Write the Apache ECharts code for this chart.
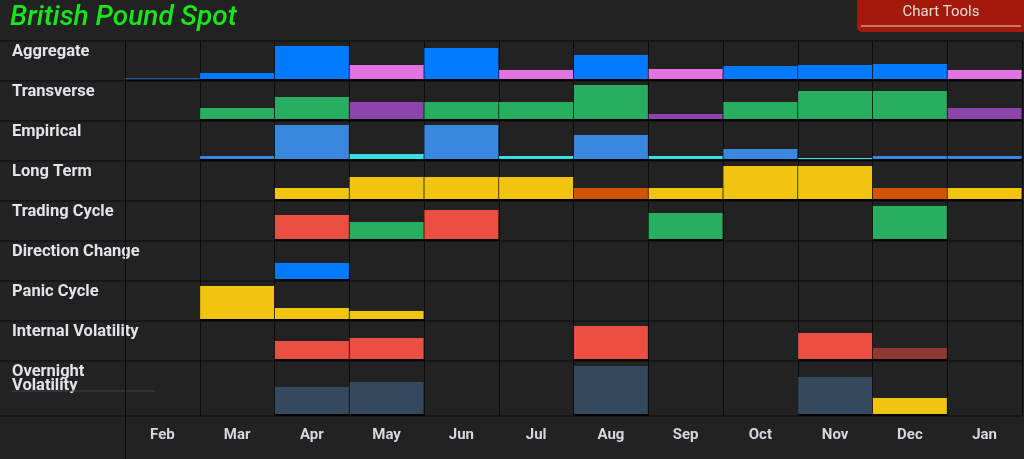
<!DOCTYPE html>
<html>
<head>
<meta charset="utf-8">
<style>html,body{margin:0;padding:0;background:#222}#chart{width:1024px;height:459px}</style>
<script src="https://cdn.jsdelivr.net/npm/echarts@6/dist/echarts.min.js"></script>
</head>
<body>
<div id="chart"></div>
<script>
var months = ['Feb','Mar','Apr','May','Jun','Jul','Aug','Sep','Oct','Nov','Dec','Jan'];
var rowNames = ['Aggregate','Transverse','Empirical','Long Term','Trading Cycle','Direction Change','Panic Cycle','Internal Volatility','Overnight\nVolatility'];

// bar heights
var aggregate = [1,6,33,14,31,9,24,10,13,14,15,9];
var transverse = [0,11,22,17,17,17,34,5,17,28,28,11];
var empirical = [0,3,34,5,34,3,24,3,10,1,3,3];
var longTerm = [0,0,11,22,22,22,11,11,33,33,11,11];
var tradingCycle = [0,0,24,17,29,0,0,26,0,0,33,0];
var directionChange = [0,0,16,0,0,0,0,0,0,0,0,0];
var panicCycle = [0,33,11,8,0,0,0,0,0,0,0,0];
var internalVol = [0,0,18,21,0,0,33,0,0,26,11,0];
var overnightVol = [0,0,27,32,0,0,48,0,0,37,16,0];

// signal kind of each bar
var aggregateKinds = ['dim','blue','blue','pink','blue','pink','blue','pink','blue','blue','blue','pink'];
var transverseKinds = ['','green','green','purple','green','green','green','purple','green','green','green','purple'];
var empiricalKinds = ['','sky','sky','cyan','sky','cyan','sky','cyan','sky','cyan','sky','sky'];
var longTermKinds = ['','','yellow','yellow','yellow','yellow','orange','yellow','yellow','yellow','orange','yellow'];
var tradingKinds = ['','','red','green','red','','','green','','','green',''];
var directionKinds = ['','','blue','','','','','','','','',''];
var panicKinds = ['','yellow','yellow','yellow','','','','','','','',''];
var internalKinds = ['','','red','red','','','red','','','red','brick',''];
var overnightKinds = ['','','slate','slate','','','slate','','','slate','yellow',''];

var palette = {
	dim: '#1c5fa8', blue: '#007bff', pink: '#e274e2', green: '#27ae60', purple: '#8e44ad',
	sky: '#3a87e0', cyan: '#34e0e8', yellow: '#f1c40f', orange: '#d35400', red: '#ea4f42',
	brick: '#8e3a32', slate: '#34495e'
};

var rowValues = [aggregate, transverse, empirical, longTerm, tradingCycle, directionChange, panicCycle, internalVol, overnightVol];
var rowKinds = [aggregateKinds, transverseKinds, empiricalKinds, longTermKinds, tradingKinds, directionKinds, panicKinds, internalKinds, overnightKinds];

var rowTop = 41, rowH = 40, lastH = 55;
var grids = [], xAxes = [], yAxes = [], series = [], graphics = [];

rowValues.forEach(function (values, i) {
	var last = i === rowValues.length - 1;
	var h = last ? lastH : rowH;
	grids.push({ left: 125, right: 2, top: rowTop + rowH * i, height: h });
	xAxes.push({
		gridIndex: i,
		type: 'category',
		data: months,
		axisLine: { show: false },
		axisTick: { show: false },
		splitLine: { show: true, interval: 0, lineStyle: { color: '#0c0c0c', width: 1 } },
		axisLabel: {
			show: last,
			margin: 12,
			color: '#d4d8dc',
			fontFamily: 'Roboto',
			fontWeight: 'bold',
			fontSize: 15
		}
	});
	yAxes.push({ gridIndex: i, type: 'value', min: -2, max: h - 2, show: false, splitLine: { show: false } });
	series.push({
		type: 'bar',
		xAxisIndex: i,
		yAxisIndex: i,
		barWidth: '99%',
		silent: true,
		data: values.map(function (v, j) {
			return {
				value: v,
				itemStyle: {
					color: palette[rowKinds[i][j]] || 'transparent',
					shadowColor: '#000',
					shadowBlur: 0,
					shadowOffsetY: v ? 2 : 0
				}
			};
		})
	});
	// row separator
	var ruleY = rowTop + rowH * i + h;
	graphics.push({ type: 'line', shape: { x1: 0, y1: ruleY, x2: 1022, y2: ruleY }, style: { stroke: '#0c0c0c', lineWidth: 1 } });
	graphics.push({
		type: 'text',
		x: 12,
		y: rowTop + rowH * i + 3.5,
		style: {
			text: rowNames[i],
			fill: '#e2e4e8',
			font: 'bold 16.5px Roboto',
			lineHeight: 14,
			shadowColor: '#000',
			shadowBlur: 2,
			shadowOffsetY: 1
		}
	});
});

graphics.push(
	{ type: 'line', shape: { x1: 0, y1: 41, x2: 1022, y2: 41 }, style: { stroke: '#0c0c0c', lineWidth: 1 } },
	{ type: 'line', shape: { x1: 125.5, y1: 41, x2: 125.5, y2: 459 }, style: { stroke: '#0c0c0c', lineWidth: 1 } },
	{ type: 'line', shape: { x1: 12, y1: 391, x2: 155, y2: 391 }, style: { stroke: '#444', lineWidth: 1 } },
	{ type: 'text', x: 10, y: 4, style: { text: 'British Pound Spot', fill: '#19e619', font: 'italic 500 28px Roboto' } },
	{ type: 'rect', shape: { x: 857, y: -6, width: 170, height: 38, r: 5 }, style: { fill: '#a31a0c' } },
	{ type: 'text', x: 941, y: 12, style: { text: 'Chart Tools', fill: '#e6d8d4', font: '15px Roboto', textAlign: 'center', textVerticalAlign: 'middle' } },
	{ type: 'line', shape: { x1: 861, y1: 26, x2: 1021, y2: 26 }, style: { stroke: '#e6d8d4', lineWidth: 1 } }
);

var myChart = echarts.init(document.getElementById('chart'));
myChart.setOption({
	backgroundColor: '#222222',
	animation: false,
	grid: grids,
	xAxis: xAxes,
	yAxis: yAxes,
	series: series,
	graphic: graphics
});
</script>
</body>
</html>
